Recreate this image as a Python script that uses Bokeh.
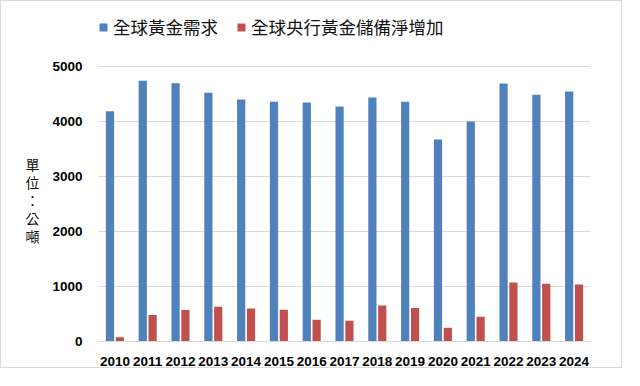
from bokeh.plotting import figure
from bokeh.models import ColumnDataSource, FactorRange, Range1d, Legend, LegendItem, FixedTicker
from bokeh.transform import dodge
from bokeh.embed import file_html
from bokeh.resources import INLINE

years = ["2010", "2011", "2012", "2013", "2014", "2015", "2016", "2017",
         "2018", "2019", "2020", "2021", "2022", "2023", "2024"]
demand = [4187, 4740, 4697, 4521, 4400, 4358, 4345, 4273, 4436, 4358, 3673, 4000, 4691, 4485, 4545]
central_bank = [77, 480, 571, 631, 600, 576, 395, 376, 655, 607, 249, 449, 1073, 1049, 1036]
y_ticks = [0, 1000, 2000, 3000, 4000, 5000]
series_names = ["全球黃金需求", "全球央行黃金儲備淨增加"]
y_label = "\n\n\n單\n位\n：\n公\n噸"

# frame extends above the 5000 line to host the legend (legend cannot leave the frame)
frame_top, frame_bottom, px_5000 = 3, 340, 275
y_end = 5000 * (frame_bottom - frame_top) / px_5000

src = ColumnDataSource(dict(years=years, demand=demand, cb=central_bank))

p = figure(x_range=FactorRange(*years, range_padding=0), y_range=Range1d(0, y_end),
           width=622, height=368, output_backend="svg", toolbar_location=None,
           min_border_left=97, min_border_right=33, min_border_top=frame_top,
           min_border_bottom=368 - frame_bottom)
p.styles = {"border": "1px solid #d9d9d9"}
p.outline_line_color = None
p.background_fill_color = "white"
p.border_fill_color = "white"

r1 = p.vbar(x=dodge("years", -0.15, range=p.x_range), top="demand", width=0.25,
            source=src, fill_color="#4F81BD", line_color=None)
r2 = p.vbar(x=dodge("years", 0.15, range=p.x_range), top="cb", width=0.25,
            source=src, fill_color="#C0504D", line_color=None)

legend = Legend(items=[LegendItem(label=series_names[0], renderers=[r1]),
                       LegendItem(label=series_names[1], renderers=[r2])],
                location=(0, 302), orientation="horizontal",
                glyph_width=10, glyph_height=10, label_standoff=5, spacing=18,
                padding=0, margin=0, border_line_color=None, background_fill_alpha=0,
                label_text_font="Noto Sans CJK TC", label_text_font_size="17.5px",
                label_text_color="#111111")
p.add_layout(legend)

p.xgrid.grid_line_color = None
p.ygrid.grid_line_color = "#d9d9d9"
p.yaxis.ticker = FixedTicker(ticks=y_ticks)
for ax in (p.xaxis[0], p.yaxis[0]):
    ax.major_tick_line_color = None
    ax.minor_tick_line_color = None
    ax.major_tick_in = 0
    ax.major_tick_out = 0
    ax.major_label_text_font = "Liberation Sans"
    ax.major_label_text_font_style = "bold"
    ax.major_label_text_font_size = "13.5px"
    ax.major_label_text_color = "black"
p.yaxis.axis_line_color = None
p.xaxis.axis_line_color = "#d9d9d9"
p.yaxis.major_label_standoff = 16
p.xaxis.major_label_standoff = 15
p.xaxis.major_label_text_line_height = 0.8

p.yaxis.axis_label = y_label
p.yaxis.axis_label_orientation = "horizontal"
p.yaxis.axis_label_text_font = "Noto Sans CJK TC"
p.yaxis.axis_label_text_font_style = "normal"
p.yaxis.axis_label_text_font_size = "14px"
p.yaxis.axis_label_text_line_height = 0.9
p.yaxis.axis_label_text_color = "#111111"
p.yaxis.axis_label_standoff = 10

open("out.html", "w").write(file_html(p, INLINE))
